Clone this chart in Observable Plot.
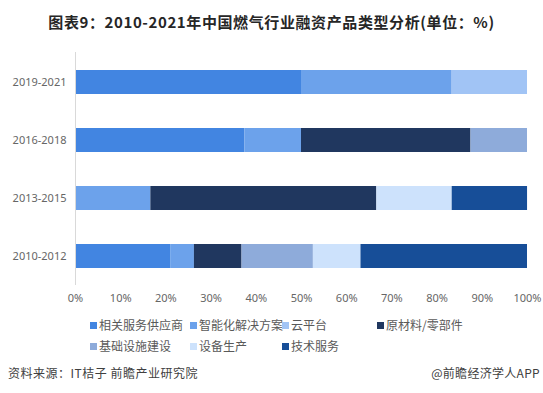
<!DOCTYPE html>
<html>
<head>
<meta charset="utf-8">
<script src="https://cdn.jsdelivr.net/npm/d3@7"></script>
<script src="https://cdn.jsdelivr.net/npm/@observablehq/plot@0.6"></script>
<style>
  html, body { margin: 0; padding: 0; background: #fff; }
  body { width: 543px; height: 393px; position: relative; overflow: hidden;
         font-family: "Noto Sans CJK SC", "Noto Sans", sans-serif; }
  #title { position: absolute; left: 0; top: 11px; width: 543px; text-align: center;
           font-size: 15px; font-weight: bold; color: #262626; letter-spacing: 0.6px; }
  #chart { position: absolute; left: 0; top: 0; }
  #legend { position: absolute; left: 0; top: 316px; width: 543px; font-size: 12px; color: #595959; }
  .li { position: absolute; white-space: nowrap; line-height: 18px; }
  .sw { display: inline-block; width: 7px; height: 7px; margin-right: 2px; vertical-align: 1px; }
  #src { position: absolute; left: 8px; top: 364px; font-size: 12px; color: #404040; letter-spacing: 0.5px; }
  #app { position: absolute; right: 3px; top: 364px; font-size: 12px; color: #404040; letter-spacing: 0.3px; }
</style>
</head>
<body>
<div id="title">图表9：2010-2021年中国燃气行业融资产品类型分析(单位：%)</div>
<div id="chart"></div>
<div id="legend"></div>
<div id="src">资料来源：IT桔子 前瞻产业研究院</div>
<div id="app">@前瞻经济学人APP</div>
<script>
const periods = ["2019-2021", "2016-2018", "2013-2015", "2010-2012"];
const seriesNames = ["相关服务供应商", "智能化解决方案", "云平台", "原材料/零部件", "基础设施建设", "设备生产", "技术服务"];
const colors = ["#4285E1", "#6CA2EB", "#A1C4F5", "#20375F", "#8EABDA", "#CDE2FC", "#174E98"];
// values per series, in order of periods above (percent)
const s相关服务供应商 = [50, 37.5, 0, 21.05];
const s智能化解决方案 = [33.33, 12.5, 16.67, 5.26];
const s云平台 = [16.67, 0, 0, 0];
const s原材料零部件 = [0, 37.5, 50, 10.53];
const s基础设施建设 = [0, 12.5, 0, 15.79];
const s设备生产 = [0, 0, 16.67, 10.53];
const s技术服务 = [0, 0, 16.67, 36.84];
const xTicks = [0, 10, 20, 30, 40, 50, 60, 70, 80, 90, 100];

const seriesValues = [s相关服务供应商, s智能化解决方案, s云平台, s原材料零部件, s基础设施建设, s设备生产, s技术服务];
const data = [];
seriesNames.forEach((s, i) => {
  periods.forEach((p, j) => data.push({series: s, period: p, value: seriesValues[i][j]}));
});

const chart = Plot.plot({
  width: 543,
  height: 310,
  marginTop: 52,
  marginBottom: 25,
  marginLeft: 75,
  marginRight: 16,
  style: {fontFamily: "'Noto Sans', 'DejaVu Sans', sans-serif", fontSize: "11px", color: "#666666"},
  x: {domain: [0, 100], ticks: xTicks, tickFormat: d => d + "%", tickSize: 0, tickPadding: 9, label: null},
  y: {domain: periods, paddingInner: 0.59, paddingOuter: 0.295, tickSize: 0, tickPadding: 9, label: null},
  color: {domain: seriesNames, range: colors},
  marks: [
    Plot.barX(data, Plot.stackX({x: "value", y: "period", fill: "series", z: "series", order: seriesNames})),
    Plot.ruleX([0], {stroke: "#d9d9d9", strokeWidth: 1})
  ]
});
document.getElementById("chart").appendChild(chart);

const legendPos = [[90, 0], [190, 0], [282, 0], [377, 0], [90, 21], [190, 21], [282, 21]];
const legend = document.getElementById("legend");
seriesNames.forEach((s, i) => {
  const d = document.createElement("div");
  d.className = "li";
  d.style.left = legendPos[i][0] + "px";
  d.style.top = legendPos[i][1] + "px";
  d.innerHTML = `<span class="sw" style="background:${colors[i]}"></span>${s}`;
  legend.appendChild(d);
});
</script>
</body>
</html>
